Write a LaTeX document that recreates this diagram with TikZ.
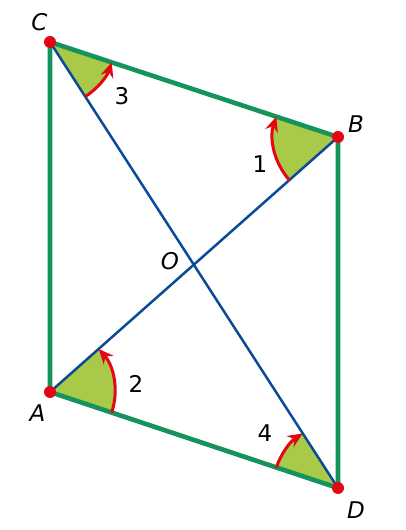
\documentclass[tikz,border=0pt]{standalone}
\usepackage{fontspec}
\setmainfont{DejaVu Sans}
\usetikzlibrary{angles,arrows.meta,calc,intersections}
\definecolor{sidegreen}{RGB}{20,147,90}
\definecolor{diagblue}{RGB}{10,74,150}
\definecolor{sectorfill}{RGB}{168,202,72}
\definecolor{markred}{RGB}{227,6,19}
\begin{document}
\begin{tikzpicture}[x=1pt,y=1pt,
  side/.style={draw=sidegreen,line width=4.6pt,line join=round},
  diag/.style={draw=diagblue,line width=2.5pt},
  sector/.style={fill=sectorfill,angle radius=65pt},
  turn/.style={draw=markred,line width=3pt,angle radius=65pt},
  vdot/.style={circle,fill=markred,inner sep=0pt,minimum size=12pt},
  ptlabel/.style={inner sep=0pt,font=\fontsize{23}{26}\selectfont\itshape},
  numlabel/.style={inner sep=0pt,font=\fontsize{23}{26}\selectfont},
  tip/.style={-{Stealth[length=15pt,width=13pt,inset=5pt]}},
  tipr/.style={{Stealth[length=15pt,width=13pt,inset=5pt]}-}]
\useasboundingbox (0,0) rectangle (406,530);
\coordinate (C) at (50,488);
\coordinate (B) at (338,393);
\coordinate (A) at (50,138);
\coordinate (D) at (338,42);
% sectors
\pic[sector] {angle=D--C--B};
\pic[sector] {angle=C--B--A};
\pic[sector] {angle=D--A--B};
\pic[sector] {angle=C--D--A};
% sides and diagonals
\draw[side] (C) -- (B) -- (D) -- (A) -- cycle;
\draw[diag] (C) -- (D);
\draw[diag] (A) -- (B);
% turning arrows
\pic[turn,tip] {angle=D--C--B};
\pic[turn,tipr] {angle=C--B--A};
\pic[turn,tip] {angle=D--A--B};
\pic[turn,tipr] {angle=C--D--A};
% vertex dots
\node[vdot] (dC) at (C) {};
\node[vdot] (dB) at (B) {};
\node[vdot] (dA) at (A) {};
\node[vdot] (dD) at (D) {};
% labels
\node[ptlabel] (lC) at (39.5,508) {C};
\node[ptlabel] (lB) at (356,406) {B};
\node[ptlabel] (lA) at (37.5,117) {A};
\node[ptlabel] (lD) at (356,20) {D};
\node[ptlabel] (lO) at (170,269) {O};
\node[numlabel] (n3) at (122,434) {3};
\node[numlabel] (n1) at (260,366) {1};
\node[numlabel] (n2) at (136,146) {2};
\node[numlabel] (n4) at (265,97) {4};
\end{tikzpicture}
\end{document}
